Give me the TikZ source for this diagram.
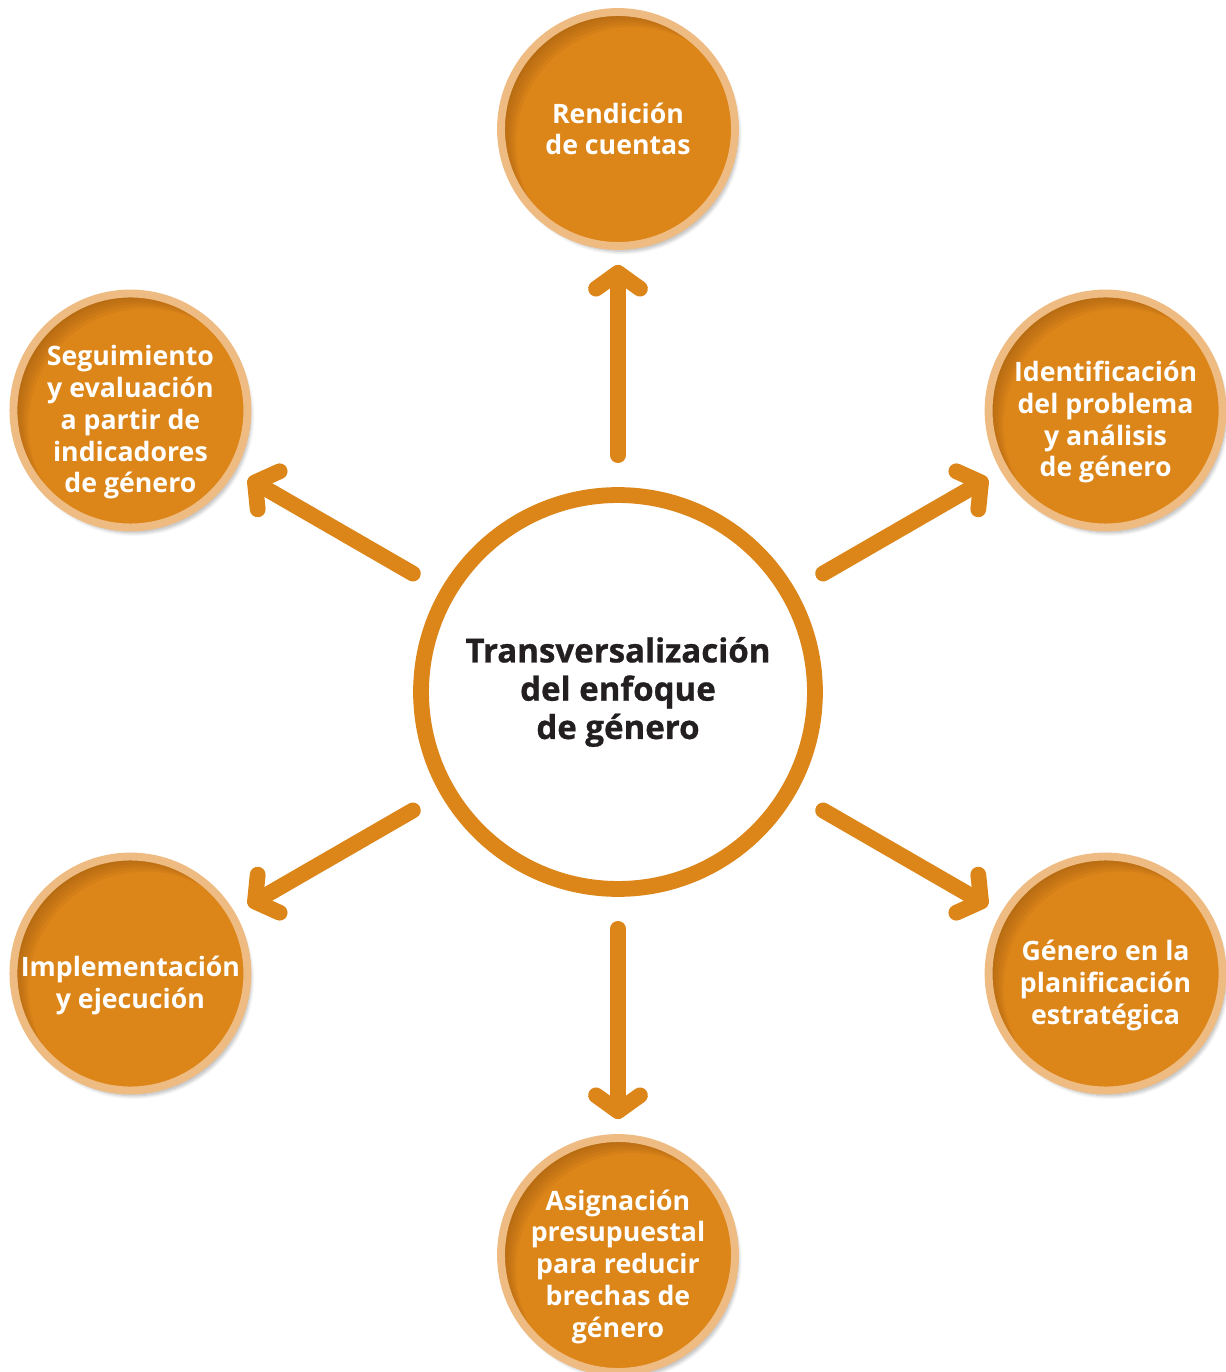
\documentclass[tikz,border=0pt]{standalone}
\usepackage{fontspec}
\setmainfont{Open Sans}
\newfontfamily\gruesa{Open Sans}[BoldFeatures={FakeBold=0.8}]
\usetikzlibrary{arrows.meta,shadows.blur}

\definecolor{naranja}{HTML}{DC8519}
\definecolor{naranjaclaro}{HTML}{EEBC82}
\definecolor{naranjaoscuro}{HTML}{7A430C}
\definecolor{textooscuro}{HTML}{231F20}

% baja un poco el bloque de texto dentro del circulo
\newcommand\bajatexto{\rule{0pt}{25pt}}

\tikzset{
  etapa/.style={circle, fill=naranja, draw=naranjaclaro, line width=4.5pt,
    minimum size=4.68cm, inner sep=-5pt, align=center, text=white,
    font=\bfseries\fontsize{15.2}{18.1}\selectfont,
    blur shadow={shadow xshift=2pt, shadow yshift=-3pt,
      shadow blur steps=10, shadow opacity=30},
    path picture={
      % sombra interior arriba a la izquierda
      \foreach \s in {1,...,6}
        \fill[naranjaoscuro, opacity=.08, even odd rule]
          (path picture bounding box.center) circle (3cm)
          ([shift={(\s*0.05cm,-\s*0.05cm)}]path picture bounding box.center) circle (2.34cm);
    }},
  centro/.style={circle, fill=white, draw=naranja, line width=9pt,
    minimum size=7.88cm, inner sep=0pt, align=center, text=textooscuro,
    font=\gruesa\bfseries\fontsize{18.8}{21.8}\selectfont},
  flecha/.style={draw=naranja, line width=9pt, line cap=round,
    -{Straight Barb[length=9pt,width=25pt,round]},
    shorten <=0.64cm, shorten >=0.3cm}
}

\begin{document}
\begin{tikzpicture}[x=0.02cm, y=0.02cm]
\useasboundingbox (-618,-680) rectangle (608,692);

% Circulo central
\node[centro] (hub) at (0,0) {Transversalización\\del enfoque\\de género};

% Etapas alrededor
\node[etapa] (rendicion) at (90:563) {Rendición\\de cuentas};
\node[etapa] (identificacion) at (30:563) {\bajatexto Identificación\\del problema\\y análisis\\de género};
\node[etapa] (planificacion) at (-30:563) {\bajatexto Género en la\\planificación\\estratégica};
\node[etapa] (presupuesto) at (-90:563) {\bajatexto Asignación\\presupuestal\\para reducir\\brechas de\\género};
\node[etapa] (ejecucion) at (210:563) {\bajatexto Implementación\\y ejecución};
\node[etapa] (seguimiento) at (150:563) {\bajatexto Seguimiento\\y evaluación\\a partir de\\indicadores\\de género};

% Flechas desde el centro
\foreach \n in {rendicion,identificacion,planificacion,presupuesto,ejecucion,seguimiento}
  \draw[flecha] (hub) -- (\n);
\end{tikzpicture}
\end{document}
